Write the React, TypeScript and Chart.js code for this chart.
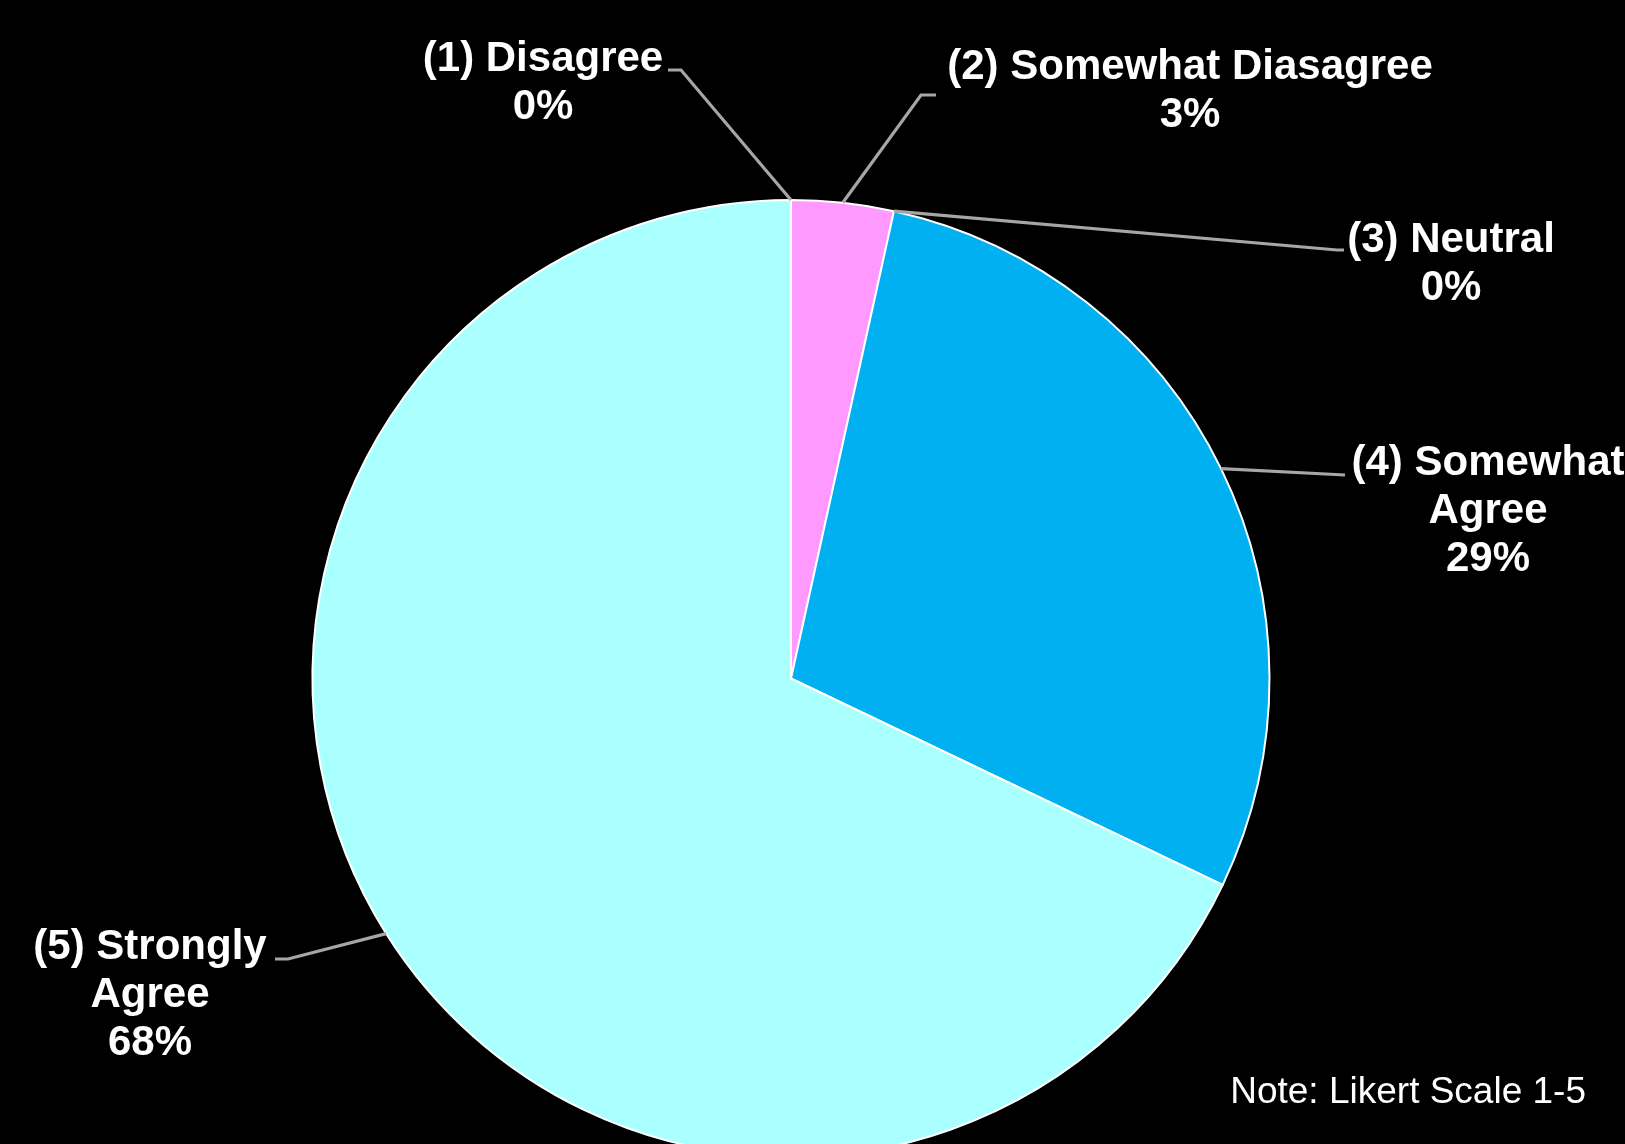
import React, { useEffect, useRef } from "react";
import { Chart, registerables } from "chart.js";

Chart.register(...registerables);

// ---- Data ----
const CATEGORIES: string[] = [
  "(1) Disagree",
  "(2) Somewhat Diasagree",
  "(3) Neutral",
  "(4) Somewhat\nAgree",
  "(5) Strongly\nAgree",
];
const SHARE_PERCENT: number[] = [0, 3.45, 0, 28.65, 67.9];
const SLICE_COLORS: string[] = ["#7F7F7F", "#FF99FF", "#FFC000", "#00B0F0", "#AAFFFF"];
const NOTE_TEXT = "Note: Likert Scale 1-5";

// ---- Label layout (positions of the outside labels and leader elbows) ----
type LabelLayout = { cx: number; y0: number; elbow: [number, number]; end: [number, number] };
const LABEL_LAYOUT: LabelLayout[] = [
  { cx: 543, y0: 59, elbow: [681, 70], end: [668, 70] },
  { cx: 1190, y0: 67, elbow: [921, 95], end: [936, 95] },
  { cx: 1451, y0: 240, elbow: [1337, 250], end: [1344, 250] },
  { cx: 1488, y0: 463, elbow: [1345, 475], end: [1345, 475] },
  { cx: 150, y0: 947, elbow: [288, 959], end: [275, 959] },
];

const FONT_FAMILY = '"Liberation Sans", Arial, Helvetica, sans-serif';

const labelPlugin = {
  id: "outsideLabels",
  afterDatasetsDraw(chart: any) {
    const ctx: CanvasRenderingContext2D = chart.ctx;
    const meta = chart.getDatasetMeta(0);
    const data: number[] = chart.data.datasets[0].data;
    const total = data.reduce((a, b) => a + b, 0);
    ctx.save();
    meta.data.forEach((arc: any, i: number) => {
      const layout = LABEL_LAYOUT[i];
      if (!layout) return;
      const { x, y, startAngle, endAngle, outerRadius } = arc.getProps(
        ["x", "y", "startAngle", "endAngle", "outerRadius"],
        true
      );
      const mid = (startAngle + endAngle) / 2;
      const sx = x + Math.cos(mid) * outerRadius;
      const sy = y + Math.sin(mid) * outerRadius;
      // leader line
      ctx.strokeStyle = "#A6A6A6";
      ctx.lineWidth = 3.2;
      ctx.lineJoin = "miter";
      ctx.beginPath();
      ctx.moveTo(sx, sy);
      ctx.lineTo(layout.elbow[0], layout.elbow[1]);
      ctx.lineTo(layout.end[0], layout.end[1]);
      ctx.stroke();
      // text
      const pct = Math.round((data[i] / total) * 100) + "%";
      const lines = String(chart.data.labels[i]).split("\n").concat([pct]);
      ctx.fillStyle = "#FFFFFF";
      ctx.font = `bold 42px ${FONT_FAMILY}`;
      ctx.textAlign = "center";
      ctx.textBaseline = "middle";
      lines.forEach((ln, k) => {
        ctx.fillText(ln, layout.cx, layout.y0 + k * 48);
      });
    });
    // note
    ctx.fillStyle = "#FFFFFF";
    ctx.font = `37px ${FONT_FAMILY}`;
    ctx.textAlign = "right";
    ctx.textBaseline = "alphabetic";
    ctx.fillText(NOTE_TEXT, 1586, 1103);
    ctx.restore();
  },
};

export default function App() {
  const canvasRef = useRef<HTMLCanvasElement | null>(null);

  useEffect(() => {
    if (!canvasRef.current) return;
    const chart = new Chart(canvasRef.current, {
      type: "pie",
      data: {
        labels: CATEGORIES,
        datasets: [
          {
            data: SHARE_PERCENT,
            backgroundColor: SLICE_COLORS,
            borderColor: "#FFFFFF",
            borderWidth: 2,
          },
        ],
      },
      options: {
        responsive: false,
        animation: false,
        devicePixelRatio: 1,
        radius: 478.5,
        layout: { padding: { left: 312.5, right: 355.5, top: 200, bottom: 43 } },
        plugins: {
          legend: { display: false },
          tooltip: { enabled: false },
        },
      },
      plugins: [labelPlugin],
    });
    return () => chart.destroy();
  }, []);

  return (
    <div
      style={{
        position: "absolute",
        left: 0,
        top: 0,
        width: 1625,
        height: 1144,
        overflow: "hidden",
        background: "#000000",
      }}
    >
      <canvas ref={canvasRef} width={1625} height={1200} style={{ display: "block" }} />
    </div>
  );
}
